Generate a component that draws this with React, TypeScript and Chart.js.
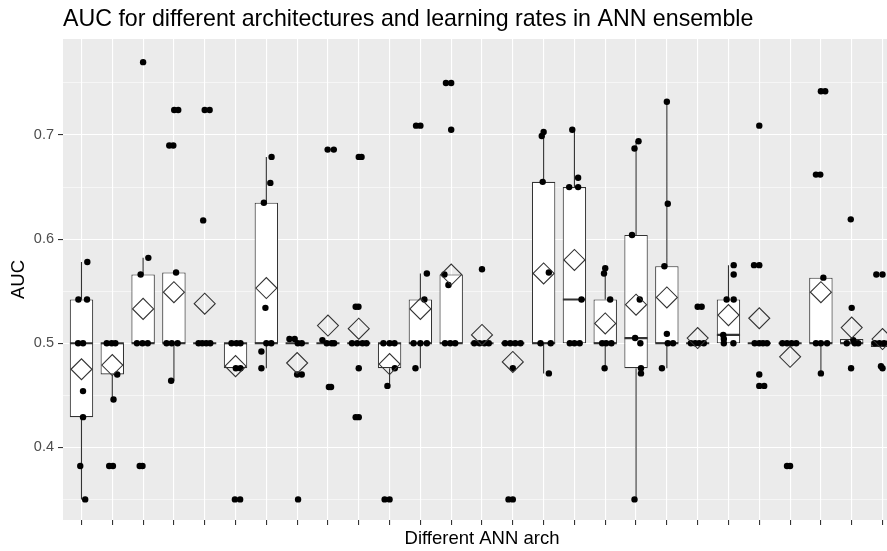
import React, { useEffect, useRef } from "react";
import { Chart, registerables } from "chart.js";

Chart.register(...registerables);

const FONT = "'Liberation Sans', Arial, Helvetica, sans-serif";

// 27 network architectures (x positions 0..26)
const architectures = [
  "arch01", "arch02", "arch03", "arch04", "arch05", "arch06", "arch07", "arch08", "arch09",
  "arch10", "arch11", "arch12", "arch13", "arch14", "arch15", "arch16", "arch17", "arch18",
  "arch19", "arch20", "arch21", "arch22", "arch23", "arch24", "arch25", "arch26", "arch27",
];

// Box-plot statistics of AUC per architecture
const whiskerLow = [0.35, 0.446, 0.5, 0.464, 0.5, 0.476, 0.476, 0.5, 0.5, 0.5, 0.459, 0.476, 0.5, 0.5, 0.5, 0.471, 0.5, 0.476, 0.35, 0.476, 0.5, 0.5, 0.5, 0.5, 0.471, 0.5, 0.4965];
const quartile1 = [0.429, 0.47, 0.5, 0.5, 0.5, 0.476, 0.5, 0.5, 0.5, 0.5, 0.476, 0.5, 0.5, 0.5, 0.5, 0.5, 0.5, 0.5, 0.476, 0.5, 0.5, 0.5, 0.5, 0.5, 0.5, 0.5, 0.4965];
const medianAuc = [0.5, 0.5, 0.5, 0.5, 0.5, 0.5, 0.5, 0.5, 0.5, 0.5, 0.5, 0.5, 0.5, 0.5, 0.5, 0.5, 0.542, 0.5, 0.505, 0.5, 0.5, 0.508, 0.5, 0.5, 0.5, 0.5, 0.5];
const quartile3 = [0.542, 0.5, 0.566, 0.568, 0.5, 0.5, 0.635, 0.5, 0.5, 0.5, 0.5, 0.542, 0.566, 0.5, 0.5, 0.655, 0.65, 0.542, 0.604, 0.574, 0.5, 0.542, 0.5, 0.5, 0.563, 0.504, 0.502];
const whiskerHigh = [0.578, 0.5, 0.582, 0.568, 0.5, 0.5, 0.679, 0.5, 0.5, 0.5, 0.5, 0.567, 0.566, 0.5, 0.5, 0.703, 0.705, 0.572, 0.694, 0.732, 0.5, 0.575, 0.5, 0.5, 0.563, 0.504, 0.502];
const meanAuc = [0.475, 0.479, 0.533, 0.549, 0.538, 0.478, 0.553, 0.481, 0.517, 0.514, 0.48, 0.533, 0.566, 0.508, 0.482, 0.567, 0.58, 0.519, 0.537, 0.544, 0.505, 0.527, 0.524, 0.487, 0.549, 0.515, 0.504];

// Individual runs (AUC) per architecture
const runAuc: number[][] = [
  [0.578, 0.542, 0.542, 0.5, 0.5, 0.454, 0.429, 0.382, 0.35],
  [0.5, 0.5, 0.5, 0.47, 0.446, 0.382, 0.382],
  [0.77, 0.582, 0.566, 0.5, 0.5, 0.5, 0.382, 0.382],
  [0.724, 0.724, 0.69, 0.69, 0.568, 0.5, 0.5, 0.5, 0.464],
  [0.724, 0.724, 0.618, 0.5, 0.5, 0.5, 0.5],
  [0.5, 0.5, 0.5, 0.476, 0.476, 0.35, 0.35],
  [0.679, 0.654, 0.635, 0.534, 0.5, 0.5, 0.492, 0.476],
  [0.504, 0.504, 0.5, 0.5, 0.47, 0.47, 0.35],
  [0.686, 0.686, 0.503, 0.5, 0.5, 0.5, 0.458, 0.458],
  [0.679, 0.679, 0.535, 0.535, 0.5, 0.5, 0.5, 0.5, 0.476, 0.429, 0.429],
  [0.5, 0.5, 0.5, 0.476, 0.459, 0.35, 0.35],
  [0.709, 0.709, 0.567, 0.542, 0.5, 0.5, 0.5, 0.476],
  [0.75, 0.75, 0.705, 0.566, 0.556, 0.5, 0.5, 0.5],
  [0.571, 0.5, 0.5, 0.5, 0.5],
  [0.5, 0.5, 0.5, 0.5, 0.476, 0.35, 0.35],
  [0.703, 0.699, 0.655, 0.568, 0.5, 0.5, 0.471],
  [0.705, 0.659, 0.65, 0.65, 0.542, 0.5, 0.5, 0.5],
  [0.572, 0.567, 0.542, 0.5, 0.5, 0.5, 0.476],
  [0.694, 0.687, 0.604, 0.542, 0.505, 0.5, 0.476, 0.471, 0.35],
  [0.732, 0.634, 0.574, 0.509, 0.5, 0.5, 0.476],
  [0.535, 0.535, 0.5, 0.5, 0.5, 0.5],
  [0.575, 0.566, 0.542, 0.542, 0.508, 0.504, 0.5, 0.5],
  [0.709, 0.575, 0.575, 0.5, 0.5, 0.5, 0.5, 0.47, 0.459, 0.459],
  [0.5, 0.5, 0.5, 0.5, 0.382, 0.382],
  [0.742, 0.742, 0.662, 0.662, 0.563, 0.5, 0.5, 0.5, 0.471],
  [0.619, 0.534, 0.503, 0.5, 0.5, 0.5, 0.476],
  [0.566, 0.566, 0.5, 0.5, 0.5, 0.5, 0.478, 0.476],
];

// Horizontal jitter of each run, in category units
const runJitter: number[][] = [
  [0.19, -0.1, 0.18, -0.11, 0.05, 0.05, 0.05, -0.04, 0.12],
  [-0.18, -0.02, 0.1, 0.16, 0.04, -0.1, 0.02],
  [0, 0.17, -0.08, -0.2, -0.02, 0.15, -0.11, -0.02],
  [0.01, 0.14, -0.15, -0.02, 0.07, -0.24, -0.07, 0.12, -0.09],
  [0, 0.16, -0.05, -0.2, -0.08, 0.05, 0.18],
  [-0.13, 0.03, 0.16, 0.01, 0.16, -0.02, 0.15],
  [0.17, 0.13, -0.08, -0.03, 0, 0.16, -0.16, -0.16],
  [-0.25, -0.08, 0.02, 0.15, 0, 0.15, 0.03],
  [-0.01, 0.19, -0.18, -0.04, 0.12, 0.2, 0.03, 0.1],
  [0, 0.09, -0.1, -0.01, -0.22, -0.05, 0.12, 0.25, 0, -0.1, 0],
  [-0.2, 0, 0.16, 0.17, -0.07, -0.16, 0],
  [-0.14, 0, 0.21, 0.13, -0.22, 0, 0.21, -0.16],
  [-0.17, 0, 0, -0.22, -0.09, -0.2, -0.03, 0.13],
  [0, -0.25, -0.08, 0.08, 0.22],
  [-0.25, -0.08, 0.08, 0.25, 0, -0.14, 0],
  [0, -0.06, -0.03, 0.17, -0.1, 0.23, 0.17],
  [-0.07, 0.12, -0.17, 0.12, 0.23, -0.15, 0, 0.17],
  [0, -0.04, 0.16, -0.1, 0.03, 0.2, -0.02],
  [0.08, -0.05, -0.13, 0.12, -0.03, 0.14, 0.16, 0.16, -0.05],
  [0, 0.03, -0.08, 0, 0.03, 0.2, -0.16],
  [0, 0.13, -0.22, -0.08, 0.05, 0.2],
  [0.17, 0.17, -0.06, 0.17, -0.17, -0.15, -0.15, 0.16],
  [0, -0.17, 0, -0.15, 0, 0.12, 0.25, 0, 0, 0.16],
  [-0.25, -0.1, 0.05, 0.2, -0.1, 0],
  [0, 0.14, -0.16, -0.02, 0.08, -0.16, 0, 0.2, 0],
  [-0.03, 0, 0.05, -0.16, 0.1, 0.21, -0.02],
  [-0.2, 0, -0.25, -0.1, 0.05, 0.2, -0.05, 0],
];

const yTickValues = [0.35, 0.4, 0.45, 0.5, 0.55, 0.6, 0.65, 0.7, 0.75];
const yLabelledTicks = [0.4, 0.5, 0.6, 0.7];
const Y_MIN = 0.3302;
const Y_MAX = 0.7922;
const X_MIN = -0.6;
const X_MAX = architectures.length - 1 + 0.6;
const BOX_HALF = 0.375;

const isLabelled = (v: number) => yLabelledTicks.some((m) => Math.abs(m - v) < 1e-6);

const panelBackground = {
  id: "panelBackground",
  beforeDraw(chart: any) {
    const { ctx, chartArea } = chart;
    ctx.save();
    ctx.fillStyle = "#EBEBEB";
    ctx.fillRect(chartArea.left, chartArea.top, chartArea.right - chartArea.left, chartArea.bottom - chartArea.top);
    ctx.restore();
  },
};

function buildConfig(): any {
  const whiskerData: any[] = [];
  const medianData: any[] = [];
  const boxData: any[] = [];
  const runData: any[] = [];
  const meanData: any[] = [];

  architectures.forEach((_, i) => {
    whiskerData.push({ x: i, y: whiskerHigh[i] }, { x: i, y: quartile3[i] }, { x: i, y: null });
    whiskerData.push({ x: i, y: quartile1[i] }, { x: i, y: whiskerLow[i] }, { x: i, y: null });
    medianData.push({ x: i - BOX_HALF, y: medianAuc[i] }, { x: i + BOX_HALF, y: medianAuc[i] }, { x: i, y: null });
    boxData.push({ x: i, y: [quartile1[i], quartile3[i]] });
    runAuc[i].forEach((v, k) => runData.push({ x: i + runJitter[i][k], y: v }));
    meanData.push({ x: i, y: meanAuc[i] });
  });

  return {
    type: "scatter",
    data: {
      datasets: [
        {
          type: "scatter",
          data: meanData,
          pointStyle: "rectRot",
          pointRadius: 10.5,
          borderColor: "#333333",
          borderWidth: 1.1,
          backgroundColor: "rgba(0,0,0,0)",
          order: 0,
        },
        {
          type: "scatter",
          data: runData,
          pointRadius: 3.2,
          backgroundColor: "#000000",
          borderWidth: 0,
          order: 1,
        },
        {
          type: "line",
          data: medianData,
          borderColor: "#333333",
          borderWidth: 2.2,
          pointRadius: 0,
          spanGaps: false,
          order: 2,
        },
        {
          type: "bar",
          data: boxData,
          backgroundColor: "#FFFFFF",
          borderColor: "#333333",
          borderWidth: 1.1,
          borderSkipped: false,
          barPercentage: 0.76,
          categoryPercentage: 1,
          grouped: false,
          order: 3,
        },
        {
          type: "line",
          data: whiskerData,
          borderColor: "#333333",
          borderWidth: 1.1,
          pointRadius: 0,
          spanGaps: false,
          order: 4,
        },
      ],
    },
    options: {
      responsive: false,
      maintainAspectRatio: false,
      animation: false,
      events: [],
      layout: { padding: 0, autoPadding: false },
      plugins: {
        legend: { display: false },
        tooltip: { enabled: false },
        title: {
          display: true,
          text: "AUC for different architectures and learning rates in ANN ensemble",
          align: "start",
          fullSize: false,
          color: "#000000",
          font: { family: FONT, size: 23.2, weight: "normal" },
          padding: { top: 6, bottom: 5.2 },
        },
      },
      scales: {
        x: {
          type: "linear",
          min: X_MIN,
          max: X_MAX,
          offset: false,
          afterBuildTicks: (scale: any) => {
            scale.ticks = architectures.map((_, i) => ({ value: i }));
          },
          afterFit: (scale: any) => {
            scale.height = 31;
          },
          ticks: { autoSkip: false, callback: () => "", font: { family: FONT, size: 12 } },
          grid: {
            offset: false,
            color: "#FFFFFF",
            lineWidth: 1.1,
            tickColor: "#333333",
            tickLength: 5,
            tickWidth: 1.1,
          },
          border: { display: false },
          title: {
            display: true,
            text: "Different ANN arch",
            color: "#000000",
            font: { family: FONT, size: 18.5 },
            padding: { top: 0, bottom: 1 },
          },
        },
        y: {
          type: "linear",
          min: Y_MIN,
          max: Y_MAX,
          afterBuildTicks: (scale: any) => {
            scale.ticks = yTickValues.map((v) => ({ value: v }));
          },
          afterFit: (scale: any) => {
            scale.width = 63;
          },
          ticks: {
            autoSkip: false,
            color: "#4D4D4D",
            font: { family: FONT, size: 14.5 },
            padding: 4,
            callback: (v: number) => (isLabelled(v) ? v.toFixed(1) : ""),
          },
          grid: {
            offset: false,
            color: "#FFFFFF",
            lineWidth: (ctx: any) => (isLabelled(ctx.tick.value) ? 1.1 : 0.55),
            tickColor: (ctx: any) => (isLabelled(ctx.tick.value) ? "#333333" : "rgba(0,0,0,0)"),
            tickLength: 5,
            tickWidth: 1.1,
          },
          border: { display: false },
          title: {
            display: true,
            text: "AUC",
            color: "#000000",
            font: { family: FONT, size: 18.5 },
            padding: { top: 8, bottom: 0 },
          },
        },
      },
    },
    plugins: [panelBackground],
  };
}

export default function App() {
  const canvasRef = useRef<HTMLCanvasElement>(null);

  useEffect(() => {
    document.body.style.margin = "0";
    const canvas = canvasRef.current;
    if (!canvas) return;
    const chart = new Chart(canvas, buildConfig());
    return () => chart.destroy();
  }, []);

  return (
    <div style={{ width: 887, height: 551, overflow: "hidden", background: "#FFFFFF" }}>
      <canvas ref={canvasRef} width={901} height={551} style={{ display: "block", width: 901, height: 551 }} />
    </div>
  );
}
